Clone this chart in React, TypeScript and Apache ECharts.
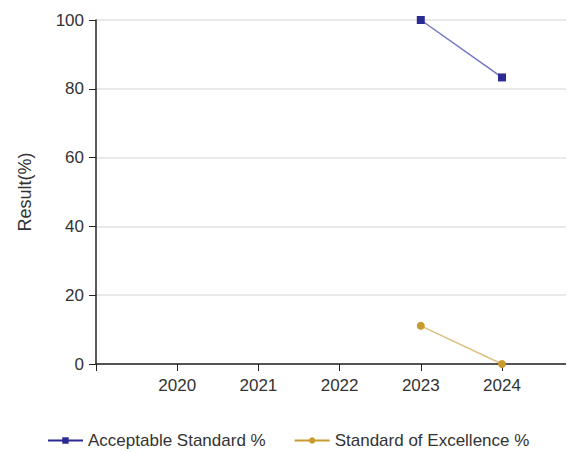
import React, { useEffect, useRef } from "react";
import * as echarts from "echarts";

const years = [2020, 2021, 2022, 2023, 2024];
const acceptable: (number | null)[] = [null, null, null, 100, 83.3];
const excellence: (number | null)[] = [null, null, null, 11.1, 0];
const yTicks = [0, 20, 40, 60, 80, 100];

export default function App() {
  const ref = useRef<HTMLDivElement>(null);
  useEffect(() => {
    if (!ref.current) return;
    const chart = echarts.init(ref.current, undefined, { renderer: "svg" });
    const font = "'Liberation Sans', Arial, sans-serif";
    chart.setOption({
      animation: false,
      grid: { left: 85, right: 0, top: 12, bottom: 88 },
      legend: {
        top: 419,
        left: 34,
        itemWidth: 35,
        itemHeight: 8,
        itemGap: 28,
        textStyle: { fontFamily: font, fontSize: 17, color: "#333" },
        data: [
          { name: "Acceptable Standard %", lineStyle: { color: "#2b2b96" } },
          { name: "Standard of Excellence %", lineStyle: { color: "#c99a2e" } },
        ],
      },
      xAxis: {
        type: "value",
        min: 2019,
        max: 2024.85,
        interval: 1,
        splitLine: { show: false },
        axisLine: { lineStyle: { color: "#222", width: 1.5 } },
        axisTick: { show: true, length: 7, lineStyle: { color: "#222" } },
        axisLabel: {
          fontFamily: font,
          fontSize: 17,
          color: "#333",
          margin: 13,
          formatter: (v: number) => (years.includes(v) ? String(v) : ""),
        },
      },
      yAxis: {
        type: "value",
        min: 0,
        max: yTicks[yTicks.length - 1],
        interval: 20,
        name: "Result(%)",
        nameLocation: "middle",
        nameGap: 62,
        nameTextStyle: { fontFamily: font, fontSize: 18, color: "#333" },
        axisLine: { show: true, lineStyle: { color: "#222", width: 1.5 } },
        axisTick: { show: true, length: 7, lineStyle: { color: "#222" } },
        axisLabel: { fontFamily: font, fontSize: 17, color: "#333", margin: 12 },
        splitLine: { lineStyle: { color: "#e2e2e2", width: 1.5 } },
      },
      series: [
        {
          name: "Acceptable Standard %",
          type: "line",
          data: years.map((y, i) => [y, acceptable[i]]),
          symbol: "rect",
          symbolSize: 8,
          itemStyle: { color: "#2b2b96" },
          lineStyle: { color: "#7474c8", width: 1.5 },
          connectNulls: false,
        },
        {
          name: "Standard of Excellence %",
          type: "line",
          data: years.map((y, i) => [y, excellence[i]]),
          symbol: "circle",
          symbolSize: 8,
          itemStyle: { color: "#c99a2e" },
          lineStyle: { color: "#dcc080", width: 1.5 },
          connectNulls: false,
        },
      ],
    });
    return () => chart.dispose();
  }, []);
  return <div ref={ref} style={{ width: 566, height: 444 }} />;
}
